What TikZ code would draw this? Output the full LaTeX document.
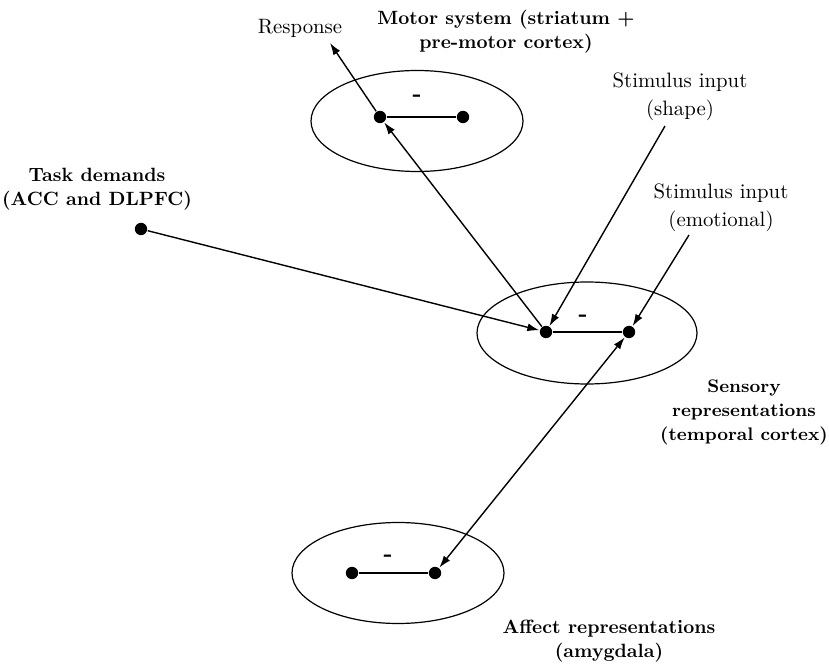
\documentclass[tikz,border=0pt]{standalone}
\usetikzlibrary{arrows.meta,shapes.geometric}
\begin{document}
\begin{tikzpicture}[x=0.5pt,y=-0.5pt,
  line width=0.7pt,
  dot/.style={circle,fill=black,inner sep=0pt,minimum size=6.2pt},
  region/.style={ellipse,draw,line width=0.6pt,inner sep=0pt},
  minus/.style={font=\bfseries\fontsize{12}{12}\selectfont,inner sep=0pt},
  lbl/.style={align=center,font=\fontsize{10.4}{14}\selectfont,inner sep=0pt},
  blbl/.style={align=center,font=\bfseries\fontsize{9.6}{12}\selectfont,inner sep=0pt},
  arr/.style={-{Latex[length=6pt,width=4pt]}},
  biarr/.style={{Latex[length=6pt,width=4pt]}-{Latex[length=6pt,width=4pt]}}]
\useasboundingbox (0,0) rectangle (829,667);

% three regions
\node[region,minimum width=106pt,minimum height=50.5pt] (motor) at (417,121) {};
\node[region,minimum width=110pt,minimum height=51pt] (sensory) at (587,333) {};
\node[region,minimum width=106pt,minimum height=50.5pt] (affect) at (398,573) {};

% units inside the regions
\node[dot] (m1) at (380,117) {};
\node[dot] (m2) at (463,117) {};
\node[minus] (mm) at (417,98) {-};
\node[dot] (s1) at (546,332) {};
\node[dot] (s2) at (629,332) {};
\node[minus] (sm) at (583,318) {-};
\node[dot] (a1) at (352,573) {};
\node[dot] (a2) at (435,573) {};
\node[minus] (am) at (388,558) {-};
\node[dot] (task) at (141,229) {};

% free ends of the input / output arrows
\coordinate (resp) at (330,43);
\coordinate (shapein) at (665,126);
\coordinate (emoin) at (689,235);

% labels
\node[lbl] (resplbl) at (300,28) {Response};
\node[blbl] (motorlbl) at (506,32) {Motor system (striatum +\\pre-motor cortex)};
\node[lbl] (shapelbl) at (680,97) {Stimulus input\\(shape)};
\node[lbl] (emolbl) at (721,208) {Stimulus input\\(emotional)};
\node[blbl] (tasklbl) at (97,189) {Task demands\\(ACC and DLPFC)};
\node[blbl,font=\bfseries\fontsize{9.1}{12}\selectfont] (senslbl) at (744,412) {Sensory\\representations\\(temporal cortex)};
\node[blbl] (afflbl) at (609,641) {Affect representations\\(amygdala)};

% mutual inhibition links
\draw (m1) -- (m2);
\draw (s1) -- (s2);
\draw (a1) -- (a2);

% connections
\draw[arr] (task) -- (s1);
\draw[arr] (s1) -- (m1);
\draw[arr] (m1) -- (resp);
\draw[arr] (shapein) -- (s1);
\draw[arr] (emoin) -- (s2);
\draw[biarr] (a2) -- (s2);
\end{tikzpicture}
\end{document}
